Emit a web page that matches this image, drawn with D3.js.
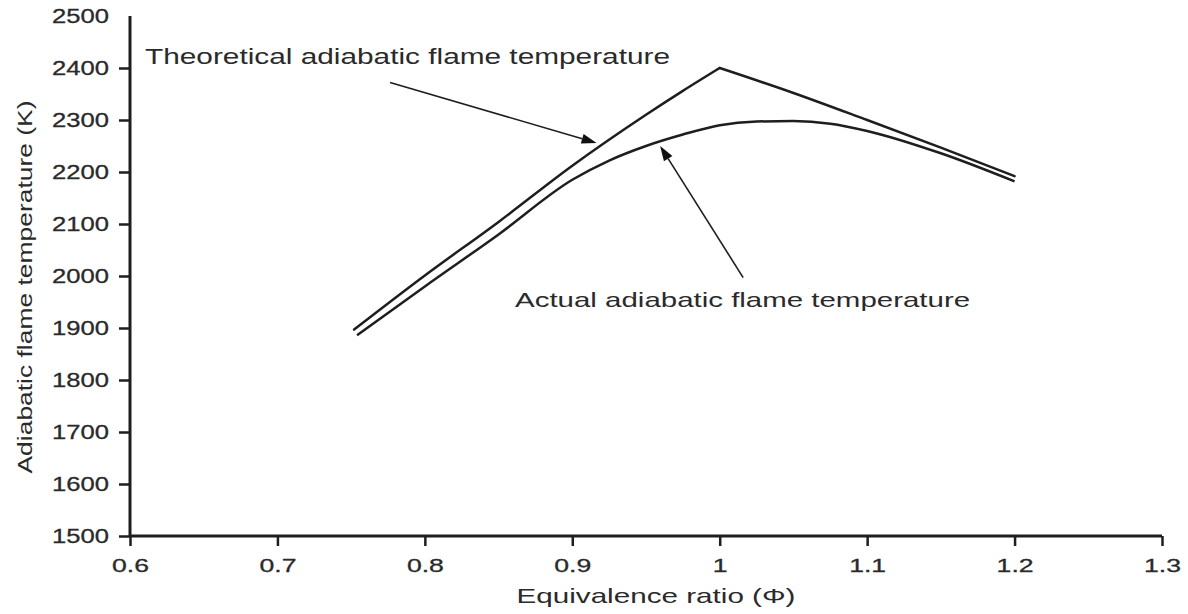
<!DOCTYPE html>
<html>
<head>
<meta charset="utf-8">
<script src="https://cdn.jsdelivr.net/npm/d3@7"></script>
<style>
  html, body { margin: 0; padding: 0; background: #fff; }
  svg { display: block; }
  text { font-family: "Liberation Sans", Arial, sans-serif; fill: #2a2a2a; }
</style>
</head>
<body>
<svg id="chart" width="1188" height="614"></svg>
<script>
// ---- data ----
const theoPhi  = [0.752, 0.80, 0.85, 0.90, 0.95, 0.975, 1.0, 1.05, 1.10, 1.15, 1.20];
const theoTemp = [1897, 2001, 2104, 2212, 2310, 2356, 2400, 2352, 2300, 2247, 2192];
const actPhi   = [0.754, 0.80, 0.85, 0.90, 0.925, 0.95, 0.975, 1.0, 1.025, 1.05, 1.075, 1.10, 1.15, 1.20];
const actTemp  = [1886, 1980, 2080, 2185, 2222, 2250, 2272, 2290, 2297, 2298, 2293, 2279, 2236, 2182];
const xTicks = [0.6, 0.7, 0.8, 0.9, 1.0, 1.1, 1.2, 1.3];
const xTickLabels = ["0.6", "0.7", "0.8", "0.9", "1", "1.1", "1.2", "1.3"];
const yTicks = [1500, 1600, 1700, 1800, 1900, 2000, 2100, 2200, 2300, 2400, 2500];
const xTitle = "Equivalence ratio (\u03A6)";
const yTitle = "Adiabatic flame temperature (K)";
const theoLabel = "Theoretical adiabatic flame temperature";
const actLabel = "Actual adiabatic flame temperature";
// annotation anchors in data units: [labelX, labelY(baseline), arrowFromX, arrowFromY, arrowToX, arrowToY]
const theoAnno = [0.6102, 2408, 0.7764, 2372, 0.9165, 2256];
const actAnno  = [0.8612, 1940, 1.0159, 1997, 0.9596, 2250];

// ---- scales ----
const svg = d3.select("#chart");
const x = d3.scaleLinear().domain([0.6, 1.3]).range([130, 1162]);
const y = d3.scaleLinear().domain([1500, 2500]).range([536, 16]);

function stretch(sel, f) {
  sel.each(function () {
    const w = this.getComputedTextLength();
    d3.select(this).attr("textLength", w * f).attr("lengthAdjust", "spacingAndGlyphs");
  });
}

// ---- axes ----
const xAxis = svg.append("g").attr("transform", `translate(0,${y(1500)})`)
  .call(d3.axisBottom(x).tickValues(xTicks).tickFormat((d, i) => xTickLabels[i]).tickSize(10).tickPadding(13));
xAxis.select(".domain").attr("stroke", "#1e1e1e").attr("stroke-width", 3).attr("d", `M${x(0.6)},0H${x(1.3)}`);
xAxis.selectAll(".tick line").attr("stroke", "#1e1e1e").attr("stroke-width", 2.5);
xAxis.selectAll(".tick text").attr("font-size", 19).attr("fill", "#2a2a2a")
  .attr("stroke", "#2a2a2a").attr("stroke-width", 0.3)
  .attr("font-family", "Liberation Sans, Arial, sans-serif").call(stretch, 1.4);

const yAxis = svg.append("g").attr("transform", `translate(${x(0.6)},0)`)
  .call(d3.axisLeft(y).tickValues(yTicks).tickFormat(d3.format("d")).tickSize(11).tickPadding(10));
yAxis.select(".domain").attr("stroke", "#1e1e1e").attr("stroke-width", 3).attr("d", `M0,${y(2500)}V${y(1500)}`);
yAxis.selectAll(".tick line").attr("stroke", "#1e1e1e").attr("stroke-width", 2.5)
  .filter(d => d === 2500).attr("stroke-opacity", 0);
yAxis.selectAll(".tick text").attr("font-size", 20).attr("fill", "#2a2a2a")
  .attr("stroke", "#2a2a2a").attr("stroke-width", 0.3)
  .attr("font-family", "Liberation Sans, Arial, sans-serif").call(stretch, 1.28);

// ---- titles ----
svg.append("text").attr("x", 656).attr("y", 603).attr("text-anchor", "middle")
  .attr("font-size", 21).text(xTitle)
  .attr("textLength", 279).attr("lengthAdjust", "spacingAndGlyphs");
svg.append("text").attr("transform", "translate(32,287) rotate(-90)").attr("text-anchor", "middle")
  .attr("font-size", 21).text(yTitle).attr("textLength", 373).attr("lengthAdjust", "spacingAndGlyphs");

// ---- curves ----
const theo = theoPhi.map((p, i) => [p, theoTemp[i]]);
const act = actPhi.map((p, i) => [p, actTemp[i]]);
const smooth = d3.line().x(d => x(d[0])).y(d => y(d[1])).curve(d3.curveMonotoneX);
const peakIdx = theoTemp.indexOf(d3.max(theoTemp));
[theo.slice(0, peakIdx + 1), theo.slice(peakIdx)].forEach(seg => {
  svg.append("path").datum(seg)
    .attr("fill", "none").attr("stroke", "#1e1e1e").attr("stroke-width", 2.5)
    .attr("stroke-linejoin", "round").attr("stroke-linecap", "round")
    .attr("d", smooth);
});
svg.append("path").datum(act)
  .attr("fill", "none").attr("stroke", "#1e1e1e").attr("stroke-width", 2.5)
  .attr("d", smooth);

// ---- annotations ----
function arrow(a) {
  const x1 = x(a[2]), y1 = y(a[3]), x2 = x(a[4]), y2 = y(a[5]);
  const ang = Math.atan2(y2 - y1, x2 - x1);
  const L = 15, W = 5;
  const bx = x2 - L * Math.cos(ang), by = y2 - L * Math.sin(ang);
  svg.append("line").attr("x1", x1).attr("y1", y1).attr("x2", bx).attr("y2", by)
    .attr("stroke", "#1e1e1e").attr("stroke-width", 1.6);
  const px = -Math.sin(ang) * W, py = Math.cos(ang) * W;
  svg.append("path").attr("fill", "#111")
    .attr("d", `M${x2},${y2}L${bx + px},${by + py}L${bx - px},${by - py}Z`);
}
svg.append("text").attr("x", x(theoAnno[0])).attr("y", y(theoAnno[1])).attr("font-size", 22)
  .text(theoLabel).attr("textLength", 525).attr("lengthAdjust", "spacingAndGlyphs");
arrow(theoAnno);
svg.append("text").attr("x", x(actAnno[0])).attr("y", y(actAnno[1])).attr("font-size", 21)
  .text(actLabel).attr("textLength", 455).attr("lengthAdjust", "spacingAndGlyphs");
arrow(actAnno);
</script>
</body>
</html>
